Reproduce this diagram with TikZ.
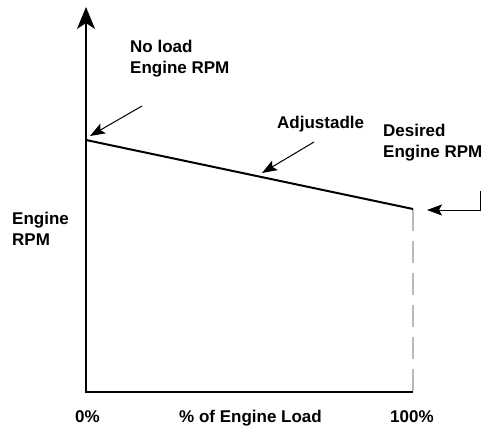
\documentclass[tikz,border=0pt]{standalone}
\usepackage{fontspec}
\setmainfont{Liberation Sans}[BoldFont={Liberation Sans Bold}]
\newfontfamily\labelfont{Liberation Sans Bold}
\usetikzlibrary{arrows.meta}
\begin{document}
\begin{tikzpicture}[x=1pt,y=-1pt,
  lbl/.style={font=\labelfont\fontsize{17}{21}\selectfont, inner sep=0pt, align=left},
  axis/.style={line width=2pt, black},
  curve/.style={line width=2pt, black},
  pointer/.style={line width=1pt, black, -{Stealth[length=15pt,width=11pt,inset=3pt]}},
  guide/.style={line width=1.6pt, black!28, dash pattern=on 22pt off 10pt}
]
\path[use as bounding box, fill=white] (0,0) rectangle (486,425);

% axes and characteristic
\coordinate (origin) at (86,392);
\coordinate (ytop) at (86,7);
\coordinate (xend) at (413,392);
\coordinate (noload) at (86,140);
\coordinate (desired) at (413,209);

\draw[guide] (desired) -- (xend);
\draw[axis, line join=miter, -{Stealth[length=22pt,width=18pt,inset=6pt]}] (xend) -- (origin) -- (ytop);
\draw[curve] (noload) -- (desired);

% labels
\node[lbl, anchor=base west] (nl) at (130,74) {No load\\Engine RPM};
\node[lbl, anchor=base west] (adj) at (277,128) {Adjustadle};
\node[lbl, anchor=base west] (des) at (383,157) {Desired\\Engine RPM};
\node[lbl, anchor=base west] (yl) at (12,245) {Engine\\RPM};
\node[lbl, anchor=base west] (x0) at (75,422) {0\%};
\node[lbl, anchor=base west] (xl) at (179,422) {\% of Engine Load};
\node[lbl, anchor=base west] (x100) at (390,422) {100\%};

% pointers
\coordinate (nlfrom) at (142,106);
\coordinate (nlto) at (90,136);
\coordinate (adjfrom) at (314,142);
\coordinate (adjto) at (262,173);
\coordinate (desfrom) at (480,191);
\coordinate (descorner) at (480,210);
\coordinate (desto) at (427,210);
\draw[pointer] (nlfrom) -- (nlto);
\draw[pointer] (adjfrom) -- (adjto);
\draw[pointer] (desfrom) -- (descorner) -- (desto);
\end{tikzpicture}
\end{document}
